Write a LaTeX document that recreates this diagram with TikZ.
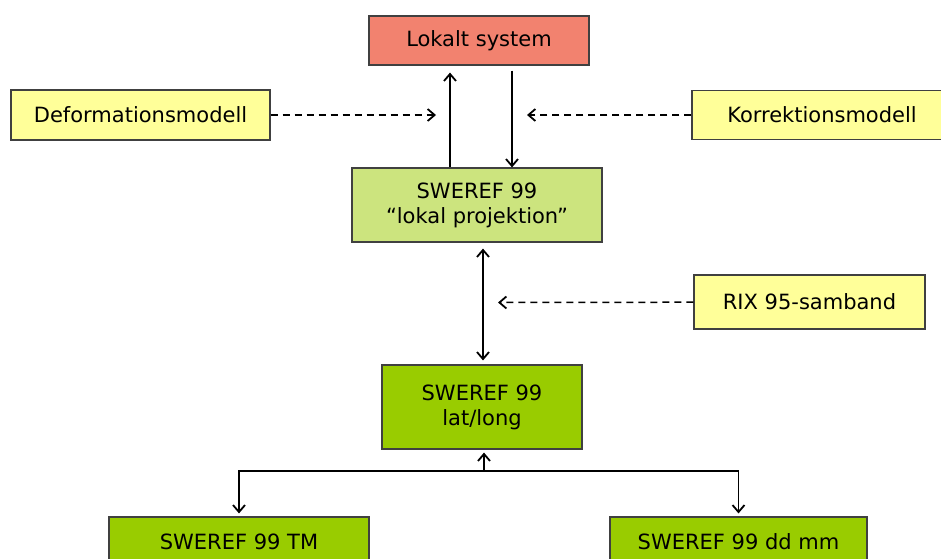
\documentclass[tikz,border=0pt]{standalone}
\usepackage{fontspec}
\setmainfont{DejaVu Sans}
\usetikzlibrary{arrows.meta}
\definecolor{redbox}{HTML}{F2826F}
\definecolor{palegreen}{HTML}{CCE47E}
\definecolor{yellowbox}{HTML}{FFFF99}
\definecolor{greenbox}{HTML}{99CC00}

\begin{document}
\begin{tikzpicture}[x=1pt,y=-1pt,
	>={Straight Barb[length=7pt,width=12pt,line width=1.8pt]},
	box/.style={draw=black!75,line width=1.2pt,inner sep=0pt,align=center,
		font=\fontsize{21}{25}\selectfont},
	arr/.style={line width=1.5pt,->},
	dasharr/.style={line width=1.5pt,->,dash pattern=on 7pt off 5pt}]
	\useasboundingbox (0,0) rectangle (941,558);
	% top
	\node[box,fill=redbox,minimum width=220pt,minimum height=49pt] (lokal) at (479,40.5) {Lokalt system};
	\node[box,fill=palegreen,minimum width=250pt,minimum height=74pt] (lokproj) at (477,205) {SWEREF 99\\“lokal projektion”};
	% models
	\node[box,fill=yellowbox,minimum width=259pt,minimum height=50pt] (deform) at (140.5,115) {Deformationsmodell};
	\node[box,fill=yellowbox,minimum width=260pt,minimum height=49pt] (korr) at (822,115) {Korrektionsmodell};
	\node[box,fill=yellowbox,minimum width=231pt,minimum height=54pt] (rix) at (809.5,302) {RIX 95-samband};
	% geographic and projections
	\node[box,fill=greenbox,minimum width=200pt,minimum height=84pt] (latlong) at (482,407) {SWEREF 99\\lat/long};
	\node[box,fill=greenbox,minimum width=260pt,minimum height=50pt] (tm) at (239,542) {SWEREF 99 TM};
	\node[box,fill=greenbox,minimum width=257pt,minimum height=50pt] (ddmm) at (738.5,542) {SWEREF 99 dd mm};
	% helper points
	\coordinate (upx) at (450,0);
	\coordinate (downx) at (512,0);
	\coordinate (midx) at (483,0);
	\coordinate (dtip) at (436,115);
	\coordinate (ktip) at (527,115);
	\coordinate (rtip) at (498,302.5);
	\coordinate (fork) at (484,471);
	% connectors
	\draw[arr,shorten >=7pt] (lokproj.north -| upx) -- (lokal.south -| upx);
	\draw[arr,shorten <=5pt] (lokal.south -| downx) -- (lokproj.north -| downx);
	\draw[dasharr] (deform) -- (dtip);
	\draw[dasharr] (korr) -- (ktip);
	\draw[dasharr] (rix) -- (rtip);
	\draw[arr,<->,shorten <=6pt,shorten >=4pt] (lokproj.south -| midx) -- (latlong.north -| midx);
	\draw[arr,shorten >=3pt] (fork) -- (latlong.south -| fork);
	\draw[arr,shorten >=3pt] (fork) -| (tm);
	\draw[arr,shorten >=3pt] (fork) -| (ddmm);
\end{tikzpicture}
\end{document}
